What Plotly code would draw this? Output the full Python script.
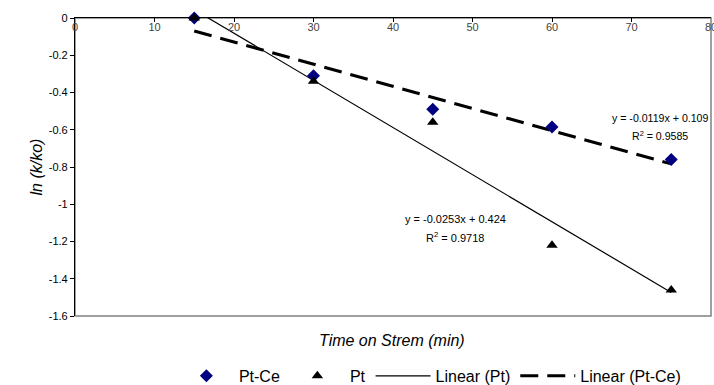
import plotly.graph_objects as go
import numpy as np

time_min = [15, 30, 45, 60, 75]
pt_ce = [0.0, -0.31, -0.49, -0.585, -0.76]
pt = [0.0, -0.34, -0.56, -1.22, -1.46]

# trendline coefficients (from the chart labels)
pt_slope, pt_icpt, pt_r2 = -0.0253, 0.424, 0.9718
ptce_slope, ptce_icpt, ptce_r2 = -0.0119, 0.109, 0.9585

x_tick_vals = [0, 10, 20, 30, 40, 50, 60, 70, 80]
y_tick_vals = [0, -0.2, -0.4, -0.6, -0.8, -1, -1.2, -1.4, -1.6]
y_tick_text = ["0", "-0.2", "-0.4", "-0.6", "-0.8", "-1", "-1.2", "-1.4", "-1.6"]

xt = np.array([time_min[0], time_min[-1]], dtype=float)

fig = go.Figure()
fig.add_trace(go.Scatter(x=xt, y=pt_slope * xt + pt_icpt, mode="lines",
                         name="Linear (Pt)", line=dict(color="black", width=1.2),
                         legendrank=3))
fig.add_trace(go.Scatter(x=xt, y=ptce_slope * xt + ptce_icpt, mode="lines",
                         name="Linear (Pt-Ce)",
                         line=dict(color="black", width=3, dash="18px,9px"),
                         legendrank=4))
fig.add_trace(go.Scatter(x=time_min, y=pt_ce, mode="markers", name="Pt-Ce",
                         marker=dict(symbol="diamond", color="#000080", size=10),
                         cliponaxis=False, legendrank=1))
fig.add_trace(go.Scatter(x=time_min, y=pt, mode="markers", name="Pt",
                         marker=dict(symbol="triangle-up", color="black", size=10),
                         cliponaxis=False, legendrank=2))

font = "Liberation Sans, Arial, sans-serif"

# trendline equation labels
fig.add_annotation(x=73.6, y=-0.535, text="y = -0.0119x + 0.109", showarrow=False,
                   font=dict(family=font, size=10.6, color="black"))
fig.add_annotation(x=73.6, y=-0.633, text="R<sup>2</sup> = 0.9585", showarrow=False,
                   font=dict(family=font, size=10.6, color="black"))
fig.add_annotation(x=47.8, y=-1.079, text="y = -0.0253x + 0.424", showarrow=False,
                   font=dict(family=font, size=11, color="black"))
fig.add_annotation(x=47.8, y=-1.177, text="R<sup>2</sup> = 0.9718", showarrow=False,
                   font=dict(family=font, size=11, color="black"))

# gray plot-area border
fig.add_shape(type="rect", xref="paper", yref="paper", x0=0, x1=1, y0=0, y1=1,
              line=dict(color="#808080", width=1.5), layer="below")

fig.update_layout(
    width=714, height=385,
    margin=dict(l=75, r=3, t=18, b=69, autoexpand=False),
    paper_bgcolor="white", plot_bgcolor="white",
    font=dict(family=font, size=11, color="black"),
    showlegend=True,
    legend=dict(orientation="h", x=0.558, xanchor="center", y=-0.201, yanchor="middle",
                font=dict(family=font, size=16), traceorder="normal",
                itemwidth=55, tracegroupgap=0, bgcolor="rgba(0,0,0,0)"),
    xaxis=dict(range=[0, 80], side="top", tickvals=x_tick_vals,
               ticks="inside", ticklen=4, tickcolor="black",
               ticklabelposition="inside", ticklabeloverflow="allow",
               showgrid=False, zeroline=False, automargin=False,
               showline=True, linecolor="black", linewidth=1.2,
               tickfont=dict(size=11), title=None),
    yaxis=dict(range=[-1.6, 0], tickvals=y_tick_vals, ticktext=y_tick_text,
               ticks="outside", ticklen=4, tickcolor="black", showgrid=False,
               ticklabeloverflow="allow", automargin=False,
               zeroline=False, showline=True, linecolor="black", linewidth=1.2,
               tickfont=dict(size=11),
               title=dict(text="<i>ln (k/ko)</i>", font=dict(size=16), standoff=2)),
)

fig.add_annotation(x=0.499, xref="paper", y=-0.081, yref="paper", yanchor="middle",
                   text="<i>Time on Strem (min)</i>", showarrow=False,
                   font=dict(family=font, size=16))

fig.write_html("out.html", config={"displayModeBar": False},
               post_script="document.body.style.margin='0';document.body.style.padding='0';")
